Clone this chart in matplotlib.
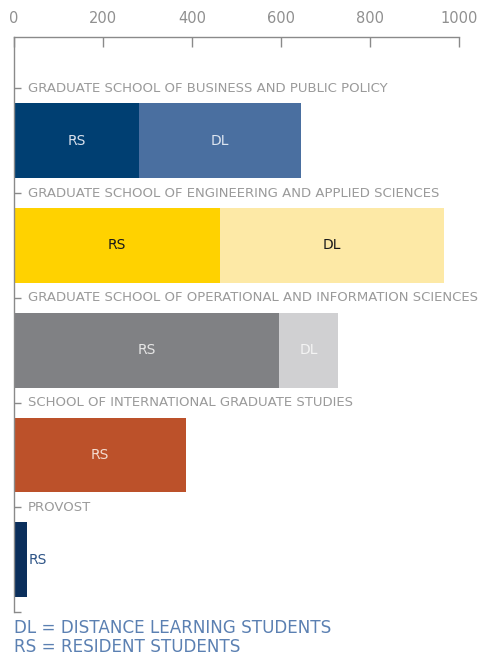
import matplotlib.pyplot as plt
import numpy as np

plt.rcParams['font.family'] = ['DejaVu Sans']

# Data
schools = [
    'GRADUATE SCHOOL OF BUSINESS AND PUBLIC POLICY',
    'GRADUATE SCHOOL OF ENGINEERING AND APPLIED SCIENCES',
    'GRADUATE SCHOOL OF OPERATIONAL AND INFORMATION SCIENCES',
    'SCHOOL OF INTERNATIONAL GRADUATE STUDIES',
    'PROVOST',
]
resident = [281, 463, 596, 387, 29]
distance = [364, 503, 132, 0, 0]
x_ticks = [0, 200, 400, 600, 800, 1000]

rs_colors = ['#003f72', '#ffd200', '#808184', '#bc512a', '#0b2f5c']
dl_colors = ['#4a6fa0', '#fde9a6', '#d0d0d2', '#ffffff', '#ffffff']
rs_text = ['#d8e0ec', '#1a1a1a', '#e6e6e6', '#f4dcd0', '#2f5587']
dl_text = ['#dde5f0', '#1a1a1a', '#f4f4f4', 'w', 'w']

fig = plt.figure(figsize=(4.81, 6.58), dpi=100)
ax = fig.add_axes([14 / 481, 1 - 612 / 658, 445 / 481, 575 / 658])

y = np.arange(len(schools))
ax.barh(y, resident, height=0.714, color=rs_colors)
ax.barh(y, distance, left=resident, height=0.714, color=dl_colors)

for i in range(len(schools)):
    # category label sits on the tick above each bar
    ax.text(32, i - 0.5, schools[i], color='#9a9a9a', fontsize=9.5,
            va='center', ha='left')
    if resident[i] > 100:
        ax.text(resident[i] / 2, i, 'RS', color=rs_text[i], fontsize=10,
                ha='center', va='center')
    else:
        ax.text(resident[i] + 4, i, 'RS', color=rs_text[i], fontsize=10,
                ha='left', va='center')
    if distance[i] > 0:
        ax.text(resident[i] + distance[i] / 2, i, 'DL', color=dl_text[i],
                fontsize=10, ha='center', va='center')

ax.set_xlim(0, 1000)
ax.set_ylim(4.5, -0.99)
ax.xaxis.tick_top()
ax.set_xticks(x_ticks)
ax.set_xticklabels([str(t) for t in x_ticks])
ax.set_yticks(np.arange(-0.5, len(schools), 1.0))
ax.set_yticklabels([])
ax.tick_params(axis='x', direction='in', length=7.5, width=1, color='#8a8a8a',
               labelcolor='#909090', labelsize=10.5, pad=8)
ax.tick_params(axis='y', direction='in', length=5, width=1, color='#8a8a8a')

for side in ['right', 'bottom']:
    ax.spines[side].set_visible(False)
for side in ['top', 'left']:
    ax.spines[side].set_color('#8a8a8a')
    ax.spines[side].set_linewidth(1)

fig.text(14 / 481, 1 - 628 / 658, 'DL = DISTANCE LEARNING STUDENTS',
         color='#5b80b2', fontsize=12.1, va='center', ha='left')
fig.text(14 / 481, 1 - 647 / 658, 'RS = RESIDENT STUDENTS',
         color='#5b80b2', fontsize=12.1, va='center', ha='left')

fig.savefig('out.png', dpi=100)
